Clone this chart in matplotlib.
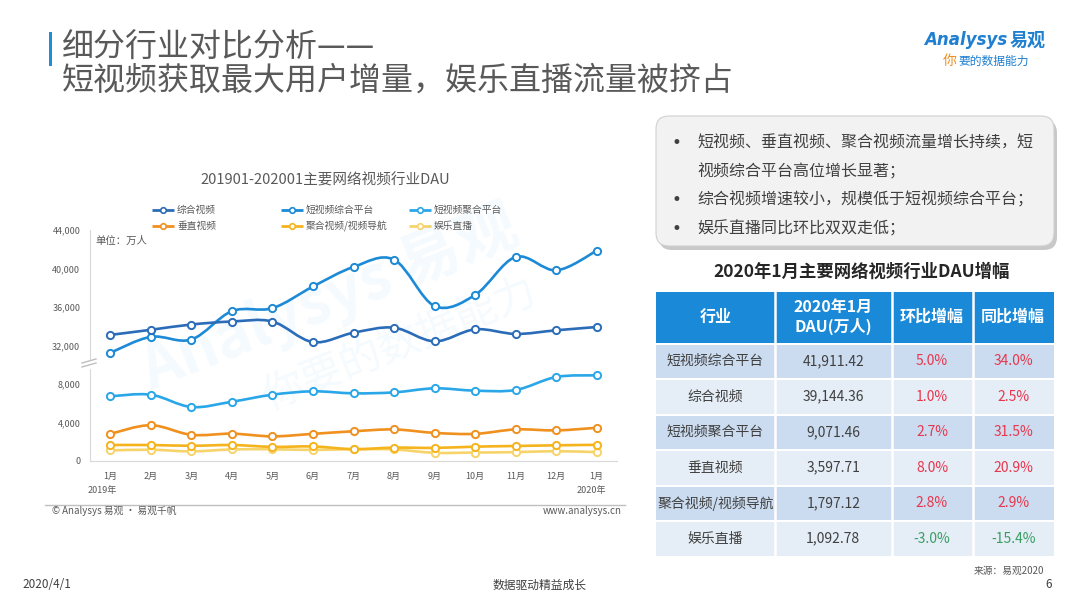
import numpy as np
import matplotlib
matplotlib.use('Agg')
import matplotlib.pyplot as plt
from matplotlib.path import Path
from matplotlib.patches import PathPatch, Rectangle, FancyBboxPatch
from matplotlib.lines import Line2D

plt.rcParams['font.family'] = ['Noto Sans CJK SC', 'DejaVu Sans']

# ---- data (万人) ----
months = ['1月', '2月', '3月', '4月', '5月', '6月', '7月', '8月', '9月', '10月', '11月', '12月', '1月']
series_names = ['综合视频', '短视频综合平台', '短视频聚合平台', '垂直视频', '聚合视频/视频导航', '娱乐直播']
zonghe = [33100, 33630, 34180, 34490, 34490, 32350, 33330, 33850, 32430, 33680, 33200, 33580, 33920]
duan_zonghe = [31240, 32900, 32620, 35570, 35880, 38130, 40160, 40920, 36100, 37250, 41200, 39810, 41850]
duan_juhe = [6720, 6890, 5610, 6160, 6890, 7240, 7030, 7130, 7550, 7310, 7380, 8730, 8900]
chuizhi = [2820, 3720, 2720, 2840, 2560, 2820, 3090, 3280, 2920, 2820, 3280, 3180, 3450]
juhe_nav = [1660, 1660, 1580, 1660, 1470, 1510, 1230, 1390, 1360, 1490, 1560, 1630, 1680]
yule = [1100, 1170, 1000, 1200, 1220, 1150, 1230, 1200, 850, 880, 920, 1020, 920]
colors = ['#2b6cb8', '#1c8ad6', '#2aa7e8', '#f0901e', '#f5b31c', '#f7d46a']
yticks = [0, 4000, 8000, 32000, 36000, 40000, 44000]

# table data
table_names = ['短视频综合平台', '综合视频', '短视频聚合平台', '垂直视频', '聚合视频/视频导航', '娱乐直播']
table_dau = [41911.42, 39144.36, 9071.46, 3597.71, 1797.12, 1092.78]
table_mom = [5.0, 1.0, 2.7, 8.0, 2.8, -3.0]
table_yoy = [34.0, 2.5, 31.5, 20.9, 2.9, -15.4]

bullets = [['短视频、垂直视频、聚合视频流量增长持续，短', '视频综合平台高位增长显著；'],
           ['综合视频增速较小，规模低于短视频综合平台；'],
           ['娱乐直播同比环比双双走低；']]

W, H = 1080, 608
fig = plt.figure(figsize=(W / 100, H / 100), dpi=100)
fig.patch.set_facecolor('white')

# background axes in pixel coordinates
bg = fig.add_axes([0, 0, 1, 1])
bg.set_xlim(0, W)
bg.set_ylim(H, 0)
bg.axis('off')

gray = '#595959'
dark = '#404040'

# title
bg.add_patch(Rectangle((48.5, 32), 3, 34, color='#1f8ed8', lw=0))
bg.text(62, 48, '细分行业对比分析——', fontsize=23, color=gray, va='center', ha='left', weight='light')
bg.text(62, 81, '短视频获取最大用户增量，娱乐直播流量被挤占', fontsize=23, color=gray, va='center',
        ha='left', weight='light')

# logo
bg.text(924, 40, 'Analysys', fontsize=12, color='#1f7fd0', style='italic', va='center', ha='left',
        family=['DejaVu Sans'], weight='bold')
bg.text(1010, 40, '易观', fontsize=13, color='#1f7fd0', weight='bold', va='center', ha='left')
bg.text(943, 61, '你', fontsize=10, color='#f08c1e', style='italic', va='center', ha='left')
bg.text(958, 61, '要的数据能力', fontsize=8.5, color='#1f7fd0', style='italic', va='center', ha='left')

# watermark
bg.text(330, 300, 'Analysys 易观', fontsize=44, color='#2aa7e8', alpha=0.05, rotation=22,
        ha='center', va='center', weight='bold')
bg.text(400, 345, '你要的数据能力', fontsize=30, color='#2aa7e8', alpha=0.05, rotation=22,
        ha='center', va='center')

# chart title and legend
bg.text(325, 180, '201901-202001主要网络视频行业DAU', fontsize=10.5, color=gray, ha='center', va='center')
leg_x = [152, 281, 409]
leg_y = [210, 225.5]
for i, name in enumerate(series_names):
    x0 = leg_x[i % 3]
    y0 = leg_y[i // 3]
    bg.plot([x0, x0 + 22], [y0, y0], color=colors[i], lw=2, solid_capstyle='butt')
    bg.plot([x0 + 11], [y0], marker='o', ms=4, mfc='white', mec=colors[i], mew=1.2)
    bg.text(x0 + 25, y0, name, fontsize=7, color=gray, va='center', ha='left')


# broken y axis through a piecewise-linear scale
LOW, HIGH = 10000, 30000
EPS = 1.0


def fwd(v):
    v = np.asarray(v, dtype=float)
    mid = LOW + (v - LOW) * EPS / (HIGH - LOW)
    return np.where(v <= LOW, v, np.where(v >= HIGH, v - HIGH + LOW + EPS, mid))


def inv(u):
    u = np.asarray(u, dtype=float)
    mid = LOW + (u - LOW) * (HIGH - LOW) / EPS
    return np.where(u <= LOW, u, np.where(u >= LOW + EPS, u + HIGH - LOW - EPS, mid))


def smooth_path(xs, ys):
    pts = list(zip(xs, ys))
    n = len(pts)
    verts = [pts[0]]
    codes = [Path.MOVETO]
    for i in range(n - 1):
        p0 = pts[max(i - 1, 0)]
        p1 = pts[i]
        p2 = pts[i + 1]
        p3 = pts[min(i + 2, n - 1)]
        c1 = (p1[0] + (p2[0] - p0[0]) / 6, p1[1] + (p2[1] - p0[1]) / 6)
        c2 = (p2[0] - (p3[0] - p1[0]) / 6, p2[1] - (p3[1] - p1[1]) / 6)
        verts += [c1, c2, p2]
        codes += [Path.CURVE4] * 3
    return Path(verts, codes)


ax = fig.add_axes([90 / W, (H - 461) / H, (617 - 90) / W, (461 - 230) / H])
ax.set_facecolor('none')
ax.set_yscale('function', functions=(fwd, inv))
ax.set_ylim(0, 44000)
ax.set_xlim(-0.5, len(months) - 0.5)

x = np.arange(len(months))
all_series = [zonghe, duan_zonghe, duan_juhe, chuizhi, juhe_nav, yule]
for vals, c in reversed(list(zip(all_series, colors))):
    ax.add_patch(PathPatch(smooth_path(x, vals), fill=False, edgecolor=c, lw=1.9,
                           transform=ax.transData, zorder=2))
    ax.plot(x, vals, linestyle='none', marker='o', ms=5.2, mfc='white', mec=c, mew=1.4, zorder=3)

ax.set_yticks(yticks)
ax.set_yticklabels([f'{v:,}' for v in yticks])
ax.set_xticks(x)
ax.set_xticklabels(months)
ax.tick_params(length=0, labelsize=6.5, colors=gray)
ax.tick_params(axis='y', pad=7)
ax.tick_params(axis='x', pad=8)
for s in ['top', 'right']:
    ax.spines[s].set_visible(False)
for s in ['left', 'bottom']:
    ax.spines[s].set_color('#d9d9d9')
    ax.spines[s].set_linewidth(0.8)

# break marks on the y axis
ax.add_patch(Rectangle((86, 361), 8, 7, color='white', transform=bg.transData, clip_on=False, zorder=5))
for dy in (0, 4):
    ax.add_line(Line2D([82, 96], [367 - dy, 363 - dy], color='#bfbfbf', lw=1.0,
                       transform=bg.transData, clip_on=False, zorder=6))

bg.text(95, 241, '单位：万人', fontsize=7.5, color=gray, va='center', ha='left')
bg.text(88, 490, '2019年', fontsize=6.5, color=gray, va='center', ha='left')
bg.text(606, 490, '2020年', fontsize=6.5, color=gray, va='center', ha='right')

# chart footer
bg.plot([45, 625], [505, 505], color='#bfbfbf', lw=1)
bg.text(52, 511, '© Analysys 易观 · 易观千帆', fontsize=7, color=gray, va='center', ha='left')
bg.text(622, 511, 'www.analysys.cn', fontsize=7, color=gray, va='center', ha='right')

# callout box
bg.add_patch(FancyBboxPatch((659, 120), 398, 130, boxstyle='round,pad=0,rounding_size=13',
                            facecolor='#c8c8c8', edgecolor='none', zorder=1))
bg.add_patch(FancyBboxPatch((656, 116), 398, 130, boxstyle='round,pad=0,rounding_size=13',
                            facecolor='#f2f2f2', edgecolor='#d0d0d0', lw=0.8, zorder=2))
line_y = 143
for lines in bullets:
    bg.text(671, line_y, '•', fontsize=12, color=dark, va='center', ha='left', zorder=3,
            family=['DejaVu Sans'])
    for part in lines:
        bg.text(697, line_y, part, fontsize=11.5, color=dark, va='center', ha='left', zorder=3)
        line_y += 28.5

# table
bg.text(862, 272, '2020年1月主要网络视频行业DAU增幅', fontsize=12.5, color='#262626', weight='bold',
        ha='center', va='center')
col_edges = [656, 775, 891.5, 972.5, 1054]
head_top, head_bot = 291.5, 342.5
bg.add_patch(Rectangle((656, head_top), 1054 - 656, head_bot - head_top, color='#1a8ad8', lw=0))
headers = ['行业', '2020年1月\nDAU(万人)', '环比增幅', '同比增幅']
for j, h in enumerate(headers):
    cx = (col_edges[j] + col_edges[j + 1]) / 2
    bg.text(cx, (head_top + head_bot) / 2, h, fontsize=11.5, color='white', weight='bold',
            ha='center', va='center', linespacing=1.15)
row_h = 35.5
for i, name in enumerate(table_names):
    top = 344.5 + i * row_h
    fc = '#cbdcf0' if i % 2 == 0 else '#e5edf7'
    bg.add_patch(Rectangle((656, top), 1054 - 656, row_h - 2, color=fc, lw=0))
    cy = top + (row_h - 2) / 2
    cells = [name, f'{table_dau[i]:,.2f}', f'{table_mom[i]:.1f}%', f'{table_yoy[i]:.1f}%']
    for j, txt in enumerate(cells):
        cx = (col_edges[j] + col_edges[j + 1]) / 2
        if j < 2:
            c = dark
        else:
            v = table_mom[i] if j == 2 else table_yoy[i]
            c = '#e8364c' if v >= 0 else '#3a9e62'
        bg.text(cx, cy, txt, fontsize=10, color=c, ha='center', va='center')
for j in range(1, 4):
    bg.plot([col_edges[j], col_edges[j]], [head_top, 556], color='white', lw=1.8)

bg.text(1044, 571, '来源：易观2020', fontsize=7, color=gray, ha='right', va='center')

# page footer
bg.text(22, 585, '2020/4/1', fontsize=8.5, color=dark, ha='left', va='center')
bg.text(540, 585, '数据驱动精益成长', fontsize=8.5, color=dark, ha='center', va='center')
bg.text(1052, 585, '6', fontsize=8.5, color=dark, ha='right', va='center')

fig.savefig('out.png', dpi=100, facecolor='white')
